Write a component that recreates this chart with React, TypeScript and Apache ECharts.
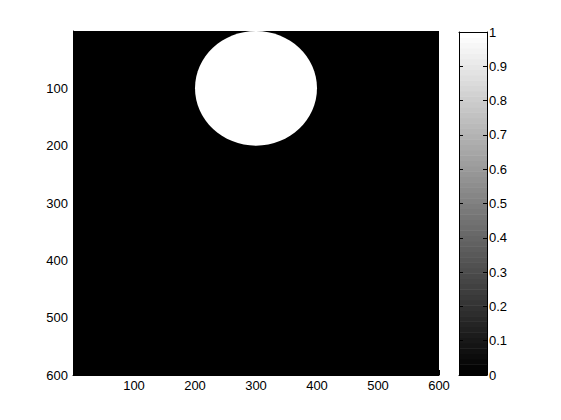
import React, { useEffect, useRef } from "react";
import * as echarts from "echarts";

// Image data: binary 600x600 image, background 0 (black), a filled disc of value 1 (white)
const imageWidth = 600;
const imageHeight = 600;
const imageExtent = [[0, 0, imageWidth, imageHeight, 0]];
const discs = [[300, 100, 100, 1]]; // [centerX, centerY, radius, value]

// Tick labels
const xTicks = [100, 200, 300, 400, 500, 600];
const yTicks = [100, 200, 300, 400, 500, 600];
const colorbarTicks = [0, 0.1, 0.2, 0.3, 0.4, 0.5, 0.6, 0.7, 0.8, 0.9, 1];

// MATLAB "gray" colormap with 64 levels
const colormapSize = 64;
const colormapLevels = Array.from({ length: colormapSize }, (_, i) => [i]);

const gray = (v: number) => {
  const g = Math.round(Math.max(0, Math.min(1, v)) * 255);
  return `rgb(${g},${g},${g})`;
};

const font = "'Liberation Sans', Arial, sans-serif";
const fontSize = 13;

export default function App() {
  const ref = useRef<HTMLDivElement>(null);
  useEffect(() => {
    if (!ref.current) return;
    const chart = echarts.init(ref.current, undefined, { renderer: "svg" });
    const axisLineBlack = { show: true, onZero: false, lineStyle: { color: "#000", width: 1 } };
    chart.setOption({
      animation: false,
      backgroundColor: "#fff",
      textStyle: { fontFamily: font },
      grid: [
        { left: 73, top: 31, width: 366, height: 344 },
        { left: 459, top: 32, width: 28, height: 343 },
      ],
      xAxis: [
        {
          gridIndex: 0,
          type: "value",
          min: 0,
          max: imageWidth,
          interval: 100,
          position: "bottom",
          axisLine: axisLineBlack,
          axisTick: { show: true, inside: true, length: 5, lineStyle: { color: "#000" } },
          splitLine: { show: false },
          axisLabel: {
            margin: 4,
            color: "#000",
            fontSize,
            fontFamily: font,
            formatter: (v: number) => (xTicks.includes(v) ? String(v) : ""),
          },
        },
        {
          gridIndex: 1,
          type: "value",
          min: 0,
          max: 1,
          position: "bottom",
          z: 10,
          axisLine: axisLineBlack,
          axisTick: { show: false },
          axisLabel: { show: false },
          splitLine: { show: false },
        },
        {
          gridIndex: 1,
          type: "value",
          min: 0,
          max: 1,
          position: "top",
          z: 10,
          axisLine: axisLineBlack,
          axisTick: { show: false },
          axisLabel: { show: false },
          splitLine: { show: false },
        },
      ],
      yAxis: [
        {
          gridIndex: 0,
          type: "value",
          inverse: true,
          min: 0,
          max: imageHeight,
          interval: 100,
          position: "left",
          axisLine: axisLineBlack,
          axisTick: { show: true, inside: true, length: 5, lineStyle: { color: "#000" } },
          splitLine: { show: false },
          axisLabel: {
            margin: 5,
            color: "#000",
            fontSize,
            fontFamily: font,
            formatter: (v: number) => (yTicks.includes(v) ? String(v) : ""),
          },
        },
        {
          gridIndex: 1,
          type: "value",
          min: 0,
          max: 1,
          interval: 0.1,
          position: "left",
          z: 10,
          axisLine: axisLineBlack,
          axisTick: { show: true, inside: true, length: 4, lineStyle: { color: "#000" } },
          axisLabel: { show: false },
          splitLine: { show: false },
        },
        {
          gridIndex: 1,
          type: "value",
          min: 0,
          max: 1,
          interval: 0.1,
          position: "right",
          z: 10,
          axisLine: axisLineBlack,
          axisTick: { show: true, inside: true, length: 4, lineStyle: { color: "#000" } },
          splitLine: { show: false },
          axisLabel: {
            margin: 2,
            color: "#000",
            fontSize,
            fontFamily: font,
            formatter: (v: number) => {
              const r = Math.round(v * 10) / 10;
              return colorbarTicks.includes(r) ? String(r) : "";
            },
          },
        },
      ],
      series: [
        {
          type: "custom",
          xAxisIndex: 0,
          yAxisIndex: 0,
          data: imageExtent,
          renderItem: (params: any, api: any) => {
            const p0 = api.coord([api.value(0), api.value(1)]);
            const p1 = api.coord([api.value(2), api.value(3)]);
            return {
              type: "rect",
              shape: {
                x: Math.min(p0[0], p1[0]),
                y: Math.min(p0[1], p1[1]),
                width: Math.abs(p1[0] - p0[0]),
                height: Math.abs(p1[1] - p0[1]),
              },
              style: { fill: gray(api.value(4)) },
            };
          },
        },
        {
          type: "custom",
          xAxisIndex: 0,
          yAxisIndex: 0,
          data: discs,
          renderItem: (params: any, api: any) => {
            const c = api.coord([api.value(0), api.value(1)]);
            const s = api.size([api.value(2), api.value(2)]);
            return {
              type: "ellipse",
              shape: { cx: c[0], cy: c[1], rx: s[0], ry: s[1] },
              style: { fill: gray(api.value(3)) },
            };
          },
        },
        {
          type: "custom",
          xAxisIndex: 1,
          yAxisIndex: 1,
          data: colormapLevels,
          renderItem: (params: any, api: any) => {
            const i = api.value(0);
            const p0 = api.coord([0, i / colormapSize]);
            const p1 = api.coord([1, (i + 1) / colormapSize]);
            return {
              type: "rect",
              shape: {
                x: Math.min(p0[0], p1[0]),
                y: Math.min(p0[1], p1[1]),
                width: Math.abs(p1[0] - p0[0]),
                height: Math.abs(p1[1] - p0[1]) + 0.5,
              },
              style: { fill: gray(i / (colormapSize - 1)) },
            };
          },
        },
      ],
    });
    return () => chart.dispose();
  }, []);
  return (
    <div
      ref={ref}
      style={{ position: "fixed", left: 0, top: 0, width: 561, height: 420 }}
    />
  );
}
